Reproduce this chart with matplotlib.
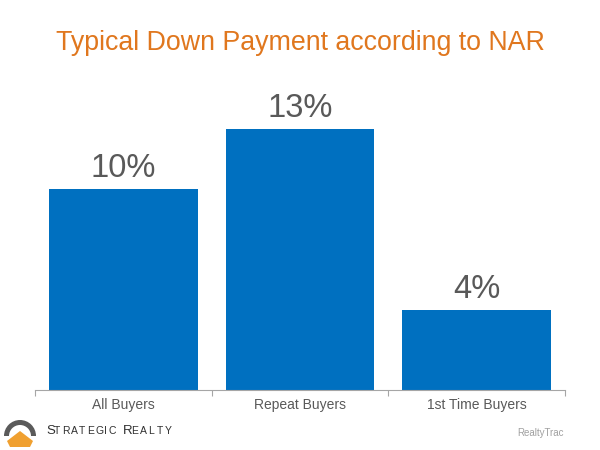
import matplotlib.pyplot as plt
from matplotlib.patches import Wedge, Polygon

plt.rcParams['font.family'] = ['Liberation Sans', 'DejaVu Sans']

# データ
categories = ['All Buyers', 'Repeat Buyers', '1st Time Buyers']
down_payment = [10, 13, 4]
bar_labels = ['10%', '13%', '4%']

title_text = 'Typical Down Payment according to NAR'
source_text = 'RealtyTrac'
logo_text = 'STRATEGIC REALTY'

bar_color = '#0070C0'
title_color = '#E0771E'
text_color = '#595959'

fig = plt.figure(figsize=(6, 4.5), dpi=100)
ax = fig.add_axes([35 / 600, 60 / 450, 530 / 600, 301.5 / 450])

x = range(len(categories))
ax.bar(x, down_payment, width=0.84, color=bar_color)
for i, v in enumerate(down_payment):
    ax.text(i, v + 0.25, bar_labels[i], ha='center', va='bottom', fontsize=23.5, color=text_color)

ax.set_xlim(-0.5, len(categories) - 0.5)
ax.set_ylim(0, 15)
ax.set_xticks([i - 0.5 for i in range(len(categories) + 1)], minor=False)
ax.set_xticklabels([])
ax.set_xticks(list(x), minor=True)
ax.set_xticklabels(categories, minor=True, fontsize=10, color=text_color)
ax.tick_params(axis='x', which='major', length=4, color='#A6A6A6')
ax.tick_params(axis='x', which='minor', length=0, pad=6)
ax.set_yticks([])
for s in ['top', 'right', 'left']:
    ax.spines[s].set_visible(False)
ax.spines['bottom'].set_color('#A6A6A6')

fig.text(0.5, 1 - 43 / 450, title_text, ha='center', va='center', fontsize=19.3, color=title_color)
fig.text(564 / 600, 1 - 433 / 450, source_text, ha='right', va='center', fontsize=7, color='#A0A0A0')

# ロゴ (簡易). 文字間隔を広げて描く.
lax = fig.add_axes([0, 0, 1, 1], facecolor='none')
lax.set_xlim(0, 600)
lax.set_ylim(450, 0)
lax.axis('off')
lax.add_patch(Wedge((20, 436), 16, 180, 360, width=5, facecolor='#5A5A5A'))
lax.add_patch(Polygon([[7, 441], [20, 431], [33, 441], [30, 447], [10, 447]], closed=True, facecolor='#F0A030'))
xpos = 46
for j, ch in enumerate(logo_text):
    big = j == 0 or (logo_text[j - 1] == ' ')
    lax.text(xpos, 431, ch, fontsize=9.5 if big else 7.5, color='#303030', va='center', ha='left')
    xpos += 8.3 if ch != ' ' else 6
    if ch in 'I':
        xpos -= 3.5

fig.savefig('out.png', dpi=100)
